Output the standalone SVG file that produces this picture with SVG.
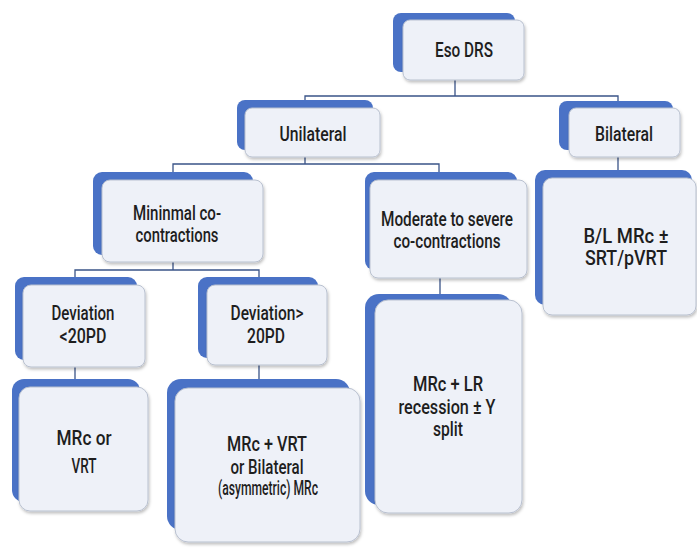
<svg xmlns="http://www.w3.org/2000/svg" width="697" height="548" viewBox="0 0 697 548">
<style>
.back{fill:#4a72c6;}
.front{fill:#eef1f8;stroke:#b8c0cf;stroke-width:1;filter:url(#sh);}
.t{font-family:Roboto,"Liberation Sans",sans-serif;font-size:19.5px;font-weight:500;fill:#1e1e1e;text-anchor:middle;}
.c{fill:none;stroke:#3a5488;stroke-width:1.3;}
</style>
<defs>
<filter id="sh" x="-10%" y="-10%" width="130%" height="130%">
<feDropShadow dx="1" dy="2" stdDeviation="1.5" flood-color="#000" flood-opacity="0.25"/>
</filter>
</defs>
<rect width="697" height="548" fill="#fff"/>
<g id="connectors">
<path class="c" d="M455,80V96M305,108V96H618V108"/>
<path class="c" d="M305,157V164M173,180V164H439V180"/>
<path class="c" d="M618,157V178"/>
<path class="c" d="M173,262V270M75,285V270H259V285"/>
<path class="c" d="M440,278V300"/>
<path class="c" d="M75,367V387"/>
<path class="c" d="M259,365V388"/>
</g>
<g id="eso">
<rect class="back" x="393" y="13" width="122" height="59" rx="8"/>
<rect class="front" x="403" y="20" width="121" height="60" rx="7"/>
<text class="t" x="464" y="57" textLength="58" lengthAdjust="spacingAndGlyphs">Eso DRS</text>
</g>
<g id="unilateral">
<rect class="back" x="237" y="100" width="136" height="50" rx="8"/>
<rect class="front" x="245" y="108" width="135" height="49" rx="7"/>
<text class="t" x="313" y="141" textLength="67" lengthAdjust="spacingAndGlyphs">Unilateral</text>
</g>
<g id="bilateral">
<rect class="back" x="559" y="101" width="114" height="49" rx="8"/>
<rect class="front" x="569" y="108" width="111" height="49" rx="7"/>
<text class="t" x="624" y="141" textLength="58" lengthAdjust="spacingAndGlyphs">Bilateral</text>
</g>
<g id="minimal">
<rect class="back" x="93" y="172" width="160" height="83" rx="9"/>
<rect class="front" x="102" y="180" width="161" height="82" rx="8"/>
<text class="t" x="177" y="220" textLength="88" lengthAdjust="spacingAndGlyphs">Mininmal co-</text>
<text class="t" x="177" y="242" textLength="83" lengthAdjust="spacingAndGlyphs">contractions</text>
</g>
<g id="moderate">
<rect class="back" x="365" y="172" width="152" height="98" rx="9"/>
<rect class="front" x="370" y="180" width="157" height="98" rx="8"/>
<text class="t" x="447" y="226" textLength="132" lengthAdjust="spacingAndGlyphs">Moderate to severe</text>
<text class="t" x="447" y="248" textLength="107" lengthAdjust="spacingAndGlyphs">co-contractions</text>
</g>
<g id="bl">
<rect class="back" x="535" y="170" width="157" height="135" rx="10"/>
<rect class="front" x="543" y="178" width="153" height="137" rx="9"/>
<text class="t" x="626" y="243" textLength="85" lengthAdjust="spacingAndGlyphs">B/L MRc ±</text>
<text class="t" x="626" y="265" textLength="82" lengthAdjust="spacingAndGlyphs">SRT/pVRT</text>
</g>
<g id="devlt">
<rect class="back" x="15" y="277" width="122" height="83" rx="9"/>
<rect class="front" x="23" y="285" width="122" height="82" rx="8"/>
<text class="t" x="83" y="320" textLength="63" lengthAdjust="spacingAndGlyphs">Deviation</text>
<text class="t" x="83" y="343" textLength="47" lengthAdjust="spacingAndGlyphs">&lt;20PD</text>
</g>
<g id="devgt">
<rect class="back" x="198" y="277" width="120" height="81" rx="9"/>
<rect class="front" x="207" y="285" width="120" height="80" rx="8"/>
<text class="t" x="267" y="320" textLength="73" lengthAdjust="spacingAndGlyphs">Deviation&gt;</text>
<text class="t" x="266" y="343" textLength="38" lengthAdjust="spacingAndGlyphs">20PD</text>
</g>
<g id="mrcvrt">
<rect class="back" x="12" y="379" width="128" height="123" rx="12"/>
<rect class="front" x="19" y="387" width="129" height="124" rx="11"/>
<text class="t" x="84" y="445" textLength="55" lengthAdjust="spacingAndGlyphs">MRc or</text>
<text class="t" x="84" y="473" textLength="25" lengthAdjust="spacingAndGlyphs">VRT</text>
</g>
<g id="mrcplusvrt">
<rect class="back" x="167" y="379" width="183" height="151" rx="14"/>
<rect class="front" x="175" y="388" width="185" height="154" rx="13"/>
<text class="t" x="267" y="451" textLength="80" lengthAdjust="spacingAndGlyphs">MRc + VRT</text>
<text class="t" x="267" y="474" textLength="73" lengthAdjust="spacingAndGlyphs">or Bilateral</text>
<text class="t" x="268" y="495" textLength="100" lengthAdjust="spacingAndGlyphs">(asymmetric) MRc</text>
</g>
<g id="mrclr">
<rect class="back" x="365" y="294" width="147" height="211" rx="14"/>
<rect class="front" x="375" y="300" width="147" height="213" rx="13"/>
<text class="t" x="448" y="391" textLength="70" lengthAdjust="spacingAndGlyphs">MRc + LR</text>
<text class="t" x="447" y="414" textLength="97" lengthAdjust="spacingAndGlyphs">recession ± Y</text>
<text class="t" x="448" y="436" textLength="30" lengthAdjust="spacingAndGlyphs">split</text>
</g>
</svg>
